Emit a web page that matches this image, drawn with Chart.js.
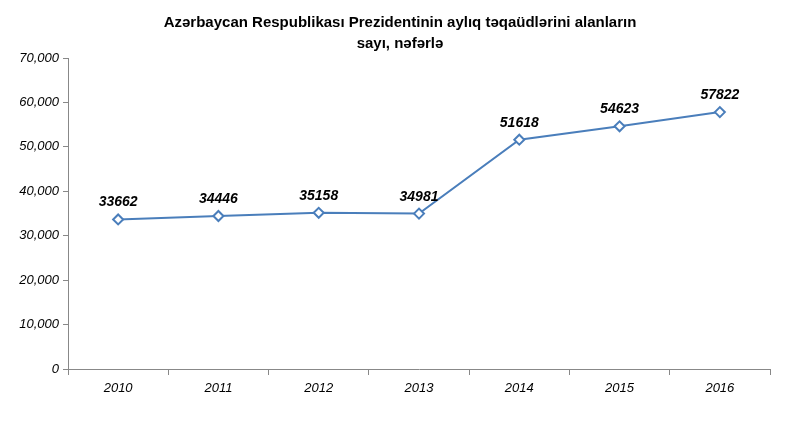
<!DOCTYPE html>
<html><head><meta charset="utf-8">
<script src="https://cdn.jsdelivr.net/npm/chart.js@4"></script>
<style>body{margin:0;background:#fff}</style>
</head><body>
<canvas id="c" width="800" height="422" style="width:800px;height:422px"></canvas>
<script>
const years = ['2010','2011','2012','2013','2014','2015','2016'];
const counts = [33662, 34446, 35158, 34981, 51618, 54623, 57822];
const titleLines = ['Azərbaycan Respublikası Prezidentinin aylıq təqaüdlərini alanların', 'sayı, nəfərlə'];

const extras = {
  id: 'extras',
  afterDatasetsDraw(chart) {
    const ctx = chart.ctx;
    ctx.save();
    ctx.fillStyle = '#000';
    ctx.textAlign = 'center';
    ctx.font = 'bold 15px "Liberation Sans", Arial';
    ctx.fillText(titleLines[0], 400, 27);
    ctx.fillText(titleLines[1], 400, 48);
    ctx.font = 'italic bold 14px "Liberation Sans", Arial';
    chart.getDatasetMeta(0).data.forEach((p, i) => {
      ctx.fillText(counts[i], p.x, p.y - 13);
    });
    ctx.restore();
  }
};

new Chart(document.getElementById('c'), {
  type: 'line',
  data: {
    labels: years,
    datasets: [{
      data: counts,
      borderColor: '#4a7ebb',
      borderWidth: 2,
      pointStyle: 'rectRot',
      pointRadius: 5,
      pointBackgroundColor: '#fff',
      pointBorderColor: '#4a7ebb',
      pointBorderWidth: 2,
      tension: 0
    }]
  },
  options: {
    responsive: false,
    animation: false,
    layout: { padding: { top: 58, right: 30, left: 0, bottom: 0 } },
    plugins: { legend: { display: false }, tooltip: { enabled: false } },
    scales: {
      x: {
        offset: true,
        grid: { display: true, drawOnChartArea: false, offset: true, color: '#888', tickLength: 6 },
        border: { color: '#888' },
        ticks: { color: '#000', font: { size: 13, style: 'italic', family: '"Liberation Sans", Arial' }, padding: 6 },
        afterFit(s) { s.height = 53; }
      },
      y: {
        min: 0, max: 70000,
        ticks: { stepSize: 10000, color: '#000', font: { size: 13, style: 'italic', family: '"Liberation Sans", Arial' }, padding: 4 },
        grid: { display: true, drawOnChartArea: false, color: '#888', tickLength: 5 },
        border: { color: '#888' },
        afterFit(s) { s.width = 68; }
      }
    }
  },
  plugins: [extras]
});
</script>
</body></html>
